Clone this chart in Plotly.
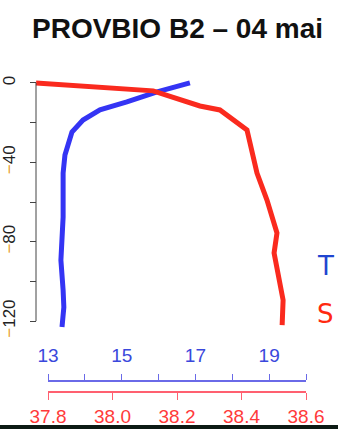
import plotly.graph_objects as go

# Profile data: depth (m), temperature (°C), salinity
t_depth = [0, -4.5, -9.6, -13.6, -18.7, -24.7, -36.3, -45.4, -67.6, -84.2, -89.3, -104.4, -113, -123]
t_vals = [16.85, 15.96, 15.14, 14.41, 13.95, 13.65, 13.46, 13.41, 13.41, 13.35, 13.35, 13.41, 13.43, 13.38]

s_depth = [0, -2.5, -4, -11.6, -13.6, -23.7, -45.4, -59, -75.6, -85.7, -102.9, -109.4, -122]
s_vals = [37.763, 37.983, 38.126, 38.271, 38.333, 38.417, 38.448, 38.479, 38.510, 38.501, 38.519, 38.529, 38.526]

depth_ticks = [0, -20, -40, -60, -80, -100, -120]
depth_labels = ["0", "", "<span style='color:#e8a030'>\u2212</span>40", "",
                "<span style='color:#e8a030'>\u2212</span>80", "",
                "<span style='color:#e8a030'>\u2212</span>120"]
t_ticks = [13, 14, 15, 16, 17, 18, 19, 20]
t_labels = ["13", "", "15", "", "17", "", "19", ""]
s_ticks = [37.8, 38.0, 38.2, 38.4, 38.6]
s_labels = ["37.8", "38.0", "38.2", "38.4", "38.6"]

title = "PROVBIO B2 \u2013 04 mai"

W, H = 338, 429


def px(x):
    return x / W


def py(y):
    return 1 - y / H


# pixel layout of the scales
T0_PX, T1_PX = 48, 306      # 13 .. 20 °C
S0_PX, S1_PX = 48, 306      # 37.8 .. 38.6
DATA_L, DATA_R = 20, 330
t_per_px = (20 - 13) / (T1_PX - T0_PX)
s_per_px = (38.6 - 37.8) / (S1_PX - S0_PX)
t_range = [13 + (DATA_L - T0_PX) * t_per_px, 20 + (DATA_R - T1_PX) * t_per_px]
s_range = [37.8 + (DATA_L - S0_PX) * s_per_px, 38.6 + (DATA_R - S1_PX) * s_per_px]

BLUE = "#3434f4"
RED = "#fa2a1e"
FONT = "Liberation Sans, Arial, sans-serif"

fig = go.Figure()

# temperature and salinity profiles on their own hidden scales
fig.add_trace(go.Scatter(x=t_vals, y=t_depth, xaxis="x3", yaxis="y", mode="lines",
                         line=dict(color=BLUE, width=5), hoverinfo="skip", showlegend=False))
fig.add_trace(go.Scatter(x=s_vals, y=s_depth, xaxis="x4", yaxis="y", mode="lines",
                         line=dict(color=RED, width=5), hoverinfo="skip", showlegend=False))
# empty traces so the two displayed bottom scales are drawn
fig.add_trace(go.Scatter(x=[], y=[], xaxis="x", yaxis="y", showlegend=False))
fig.add_trace(go.Scatter(x=[], y=[], xaxis="x2", yaxis="y", showlegend=False))

fig.update_layout(
    width=W, height=H,
    margin=dict(l=0, r=0, t=0, b=0, autoexpand=False),
    paper_bgcolor="white", plot_bgcolor="rgba(0,0,0,0)",
    font=dict(family=FONT),
    yaxis=dict(
        domain=[py(337), py(75)], range=[-128, 4],
        anchor="free", position=px(36), automargin=False,
        showline=False, showgrid=False, zeroline=False,
        tickmode="array", tickvals=depth_ticks, ticktext=depth_labels,
        ticks="outside", ticklen=6, tickcolor="#444", tickwidth=1,
        tickangle=-90, tickfont=dict(size=17, color="#222", family=FONT),
        ticklabelstandoff=8,
    ),
    xaxis3=dict(domain=[px(DATA_L), px(DATA_R)], range=t_range, visible=False,
                anchor="y", showgrid=False, zeroline=False, automargin=False),
    xaxis4=dict(overlaying="x3", range=s_range, visible=False,
                anchor="y", showgrid=False, zeroline=False, automargin=False),
    xaxis=dict(
        domain=[px(T0_PX), px(T1_PX)], range=[13, 20],
        anchor="free", position=py(381), side="top", automargin=False,
        showline=True, linecolor="#6a6ae8", linewidth=1.5,
        showgrid=False, zeroline=False,
        tickmode="array", tickvals=t_ticks, ticktext=t_labels,
        ticks="outside", ticklen=6, tickcolor="#6a6ae8", tickwidth=1,
        tickfont=dict(size=19, color="#3a48dc", family=FONT),
        ticklabelstandoff=5,
    ),
    xaxis2=dict(
        domain=[px(S0_PX), px(S1_PX)], range=[37.8, 38.6],
        anchor="free", position=py(392), side="bottom", automargin=False,
        showline=True, linecolor="#ff6070", linewidth=1.5,
        showgrid=False, zeroline=False,
        tickmode="array", tickvals=s_ticks, ticktext=s_labels,
        ticks="outside", ticklen=7, tickcolor="#ff6070", tickwidth=1,
        tickfont=dict(size=19, color="#ff3a3a", family=FONT),
        ticklabelstandoff=0,
    ),
    shapes=[
        # depth axis line, drawn only over 0 .. -120 m
        dict(type="line", xref="paper", yref="y", x0=px(36), x1=px(36), y0=0, y1=-120,
             line=dict(color="#444", width=1)),
        # dark strip along the bottom edge
        dict(type="rect", xref="paper", yref="paper", x0=0, x1=1, y0=0, y1=4 / H,
             fillcolor="#0c1a14", line=dict(width=0), layer="above"),
    ],
    annotations=[
        dict(text="<b>" + title + "</b>", xref="paper", yref="paper",
             x=px(177.5), y=py(28), xanchor="center", yanchor="middle",
             showarrow=False, font=dict(size=28, color="#111", family=FONT)),
        dict(text="T", xref="paper", yref="paper", x=px(325), y=py(266),
             xanchor="center", yanchor="middle", showarrow=False,
             font=dict(size=26, color="#1f45d0", family="DejaVu Sans")),
        dict(text="S", xref="paper", yref="paper", x=px(325), y=py(314),
             xanchor="center", yanchor="middle", showarrow=False,
             font=dict(size=26, color="#ff2a10", family="DejaVu Sans")),
    ],
)

fig.write_html("out.html")
